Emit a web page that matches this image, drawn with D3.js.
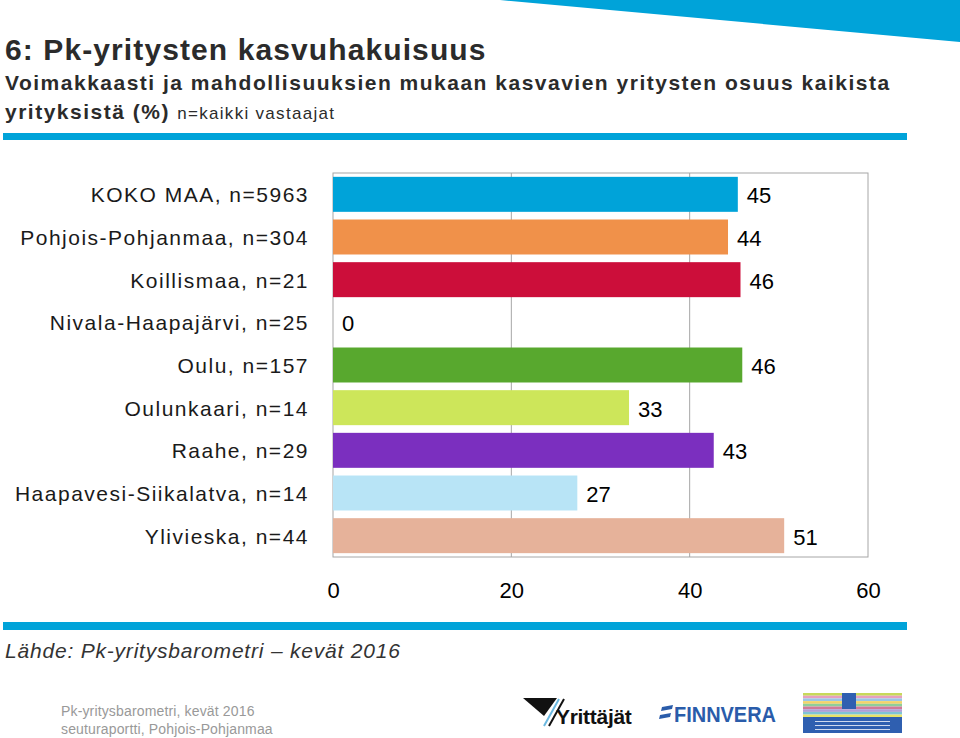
<!DOCTYPE html>
<html><head><meta charset="utf-8">
<script src="https://cdn.jsdelivr.net/npm/d3@7"></script>
<style>body{margin:0;background:#fff;}svg{display:block;font-family:"Liberation Sans",Arial,sans-serif;}</style>
</head><body><svg id="c" width="960" height="738"></svg>
<script>
const categories = ["KOKO MAA, n=5963","Pohjois-Pohjanmaa, n=304","Koillismaa, n=21","Nivala-Haapajärvi, n=25","Oulu, n=157","Oulunkaari, n=14","Raahe, n=29","Haapavesi-Siikalatva, n=14","Ylivieska, n=44"];
const values = [45.4, 44.3, 45.7, 0, 45.9, 33.2, 42.7, 27.4, 50.6];
const valueLabels = ["45","44","46","0","46","33","43","27","51"];
const barColors = ["#00a3d9","#f0914a","#cc0e3a","#cccccc","#58a82e","#cde65a","#7b2fbf","#b8e4f6","#e6b29a"];
const xTicks = [0, 20, 40, 60];

const svg = d3.select("#c");
const L = 333, R = 868, T = 173, B = 557;
const x = d3.scaleLinear().domain([0, 60]).range([L, R]);
const y = d3.scaleBand().domain(categories).range([T, B]).paddingInner(0.18).paddingOuter(0.09);

// top-right wedge
svg.append("polygon").attr("points","500,0 960,0 960,42").attr("fill","#00a3d9");

// titles
svg.append("text").attr("x",5).attr("y",60).attr("font-size",30).attr("font-weight","bold").attr("letter-spacing",1.1).attr("fill","#2b2b2b").text("6: Pk-yritysten kasvuhakuisuus");
svg.append("text").attr("x",5).attr("y",90).attr("font-size",21).attr("font-weight","bold").attr("letter-spacing",1.5).attr("fill","#2b2b2b").text("Voimakkaasti ja mahdollisuuksien mukaan kasvavien yritysten osuus kaikista");
const t2 = svg.append("text").attr("x",5).attr("y",119).attr("fill","#2b2b2b");
t2.append("tspan").attr("font-size",21).attr("font-weight","bold").attr("letter-spacing",1.5).text("yrityksistä (%) ");
t2.append("tspan").attr("font-size",17).attr("letter-spacing",1.3).text("n=kaikki vastaajat");

svg.append("rect").attr("x",3).attr("y",133).attr("width",904).attr("height",7).attr("fill","#00a3d9");
svg.append("rect").attr("x",3).attr("y",622).attr("width",904).attr("height",8).attr("fill","#00a3d9");

// grid & frame
svg.append("g").selectAll("line").data([20,40]).join("line")
  .attr("x1",d=>x(d)).attr("x2",d=>x(d)).attr("y1",T).attr("y2",B)
  .attr("stroke","#a6a6a6").attr("stroke-width",1);
svg.append("rect").attr("x",L).attr("y",T).attr("width",R-L).attr("height",B-T)
  .attr("fill","none").attr("stroke","#a6a6a6").attr("stroke-width",1);

// bars
svg.append("g").selectAll("rect").data(categories).join("rect")
  .attr("x",x(0)).attr("y",d=>y(d)).attr("height",y.bandwidth())
  .attr("width",(d,i)=>x(values[i])-x(0)).attr("fill",(d,i)=>barColors[i]);

// value labels
svg.append("g").selectAll("text").data(categories).join("text")
  .attr("x",(d,i)=>x(values[i])+9).attr("y",d=>y(d)+y.bandwidth()/2+9)
  .attr("font-size",22).attr("fill","#000").text((d,i)=>valueLabels[i]);

// category axis labels
svg.append("g").selectAll("text").data(categories).join("text")
  .attr("x",309).attr("y",d=>y(d)+y.bandwidth()/2+8).attr("text-anchor","end")
  .attr("font-size",21).attr("letter-spacing",1.5).attr("fill","#1a1a1a").text(d=>d);

// x axis
const xa = svg.append("g").attr("transform",`translate(0,${B})`)
  .call(d3.axisBottom(x).tickValues(xTicks).tickSize(0).tickPadding(25).tickFormat(d3.format("d")));
xa.select(".domain").remove();
xa.selectAll("text").attr("font-size",22).attr("fill","#000").attr("font-family","Liberation Sans, Arial, sans-serif");

// source
svg.append("text").attr("x",5).attr("y",658).attr("font-size",21).attr("font-style","italic").attr("fill","#333").attr("letter-spacing",0.8).text("Lähde: Pk-yritysbarometri – kevät 2016");
svg.append("text").attr("x",61).attr("y",716).attr("font-size",14).attr("fill","#999").attr("letter-spacing",0.15).text("Pk-yritysbarometri, kevät 2016");
svg.append("text").attr("x",61).attr("y",734).attr("font-size",14).attr("fill","#999").attr("letter-spacing",0.15).text("seuturaportti, Pohjois-Pohjanmaa");

// logos (approximate)
const lg = svg.append("g");
lg.append("polygon").attr("points","523,698 557,698 544,716").attr("fill","#111");
lg.append("line").attr("x1",544).attr("y1",726).attr("x2",559).attr("y2",699).attr("stroke","#6bb8e0").attr("stroke-width",2);
lg.append("line").attr("x1",549).attr("y1",726).attr("x2",564).attr("y2",699).attr("stroke","#111").attr("stroke-width",2);
lg.append("text").attr("x",556).attr("y",724).attr("font-size",21).attr("font-weight","bold").attr("fill","#111").attr("letter-spacing",-0.3).text("Yrittäjät");
lg.append("polygon").attr("points","662,707 673,705 672,709 661,711").attr("fill","#2a5caa");
lg.append("polygon").attr("points","660,715 671,713 670,717 659,719").attr("fill","#2a5caa");
lg.append("text").attr("x",674).attr("y",722).attr("font-size",22).attr("font-weight","bold").attr("fill","#2a5caa").attr("textLength",102).attr("lengthAdjust","spacingAndGlyphs").text("FINNVERA");
const mcol = ["#c7d95a","#e6a0c0","#9ac7e6","#f2d36b","#8ecf9a","#d07a9a","#b0a0d8","#7fc4d6","#e8e36a"];
mcol.forEach((c,i)=>lg.append("rect").attr("x",803).attr("y",693+i*2.7).attr("width",99).attr("height",2.7).attr("fill",c));
lg.append("rect").attr("x",803).attr("y",717).attr("width",99).attr("height",16).attr("fill","#2f5fb0");
lg.append("rect").attr("x",842).attr("y",693).attr("width",14).attr("height",16).attr("fill","#2f5fb0");
[721,725,729].forEach(yy=>lg.append("rect").attr("x",815).attr("y",yy).attr("width",75).attr("height",1).attr("fill","#cfd9ee"));
</script></body></html>
